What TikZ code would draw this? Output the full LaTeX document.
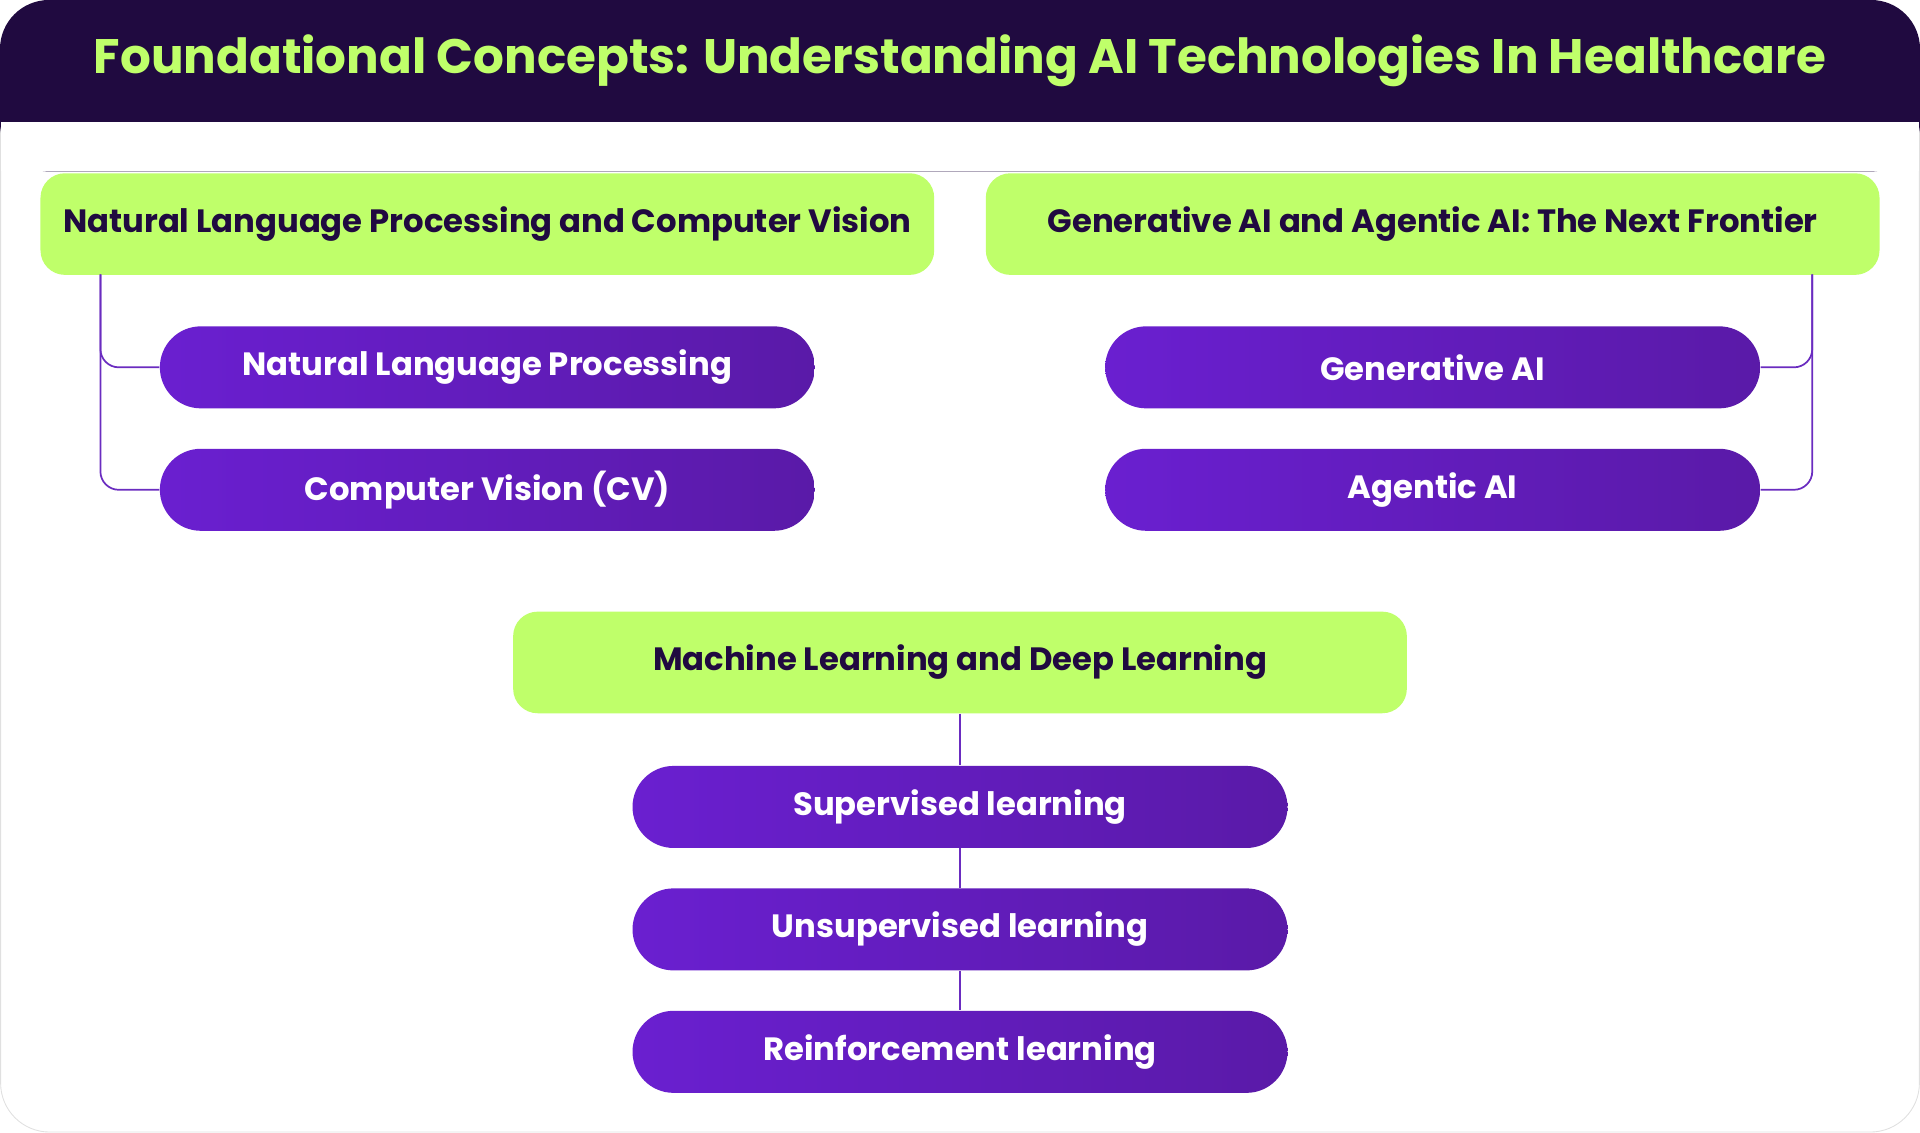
\documentclass[tikz,border=0pt]{standalone}
\usepackage{fontspec}
\setmainfont{Poppins}
\usetikzlibrary{shadings}
\definecolor{hdr}{HTML}{200A40}
\definecolor{lime}{HTML}{BFFF6A}
\definecolor{pl}{HTML}{6A1FD0}
\definecolor{pr}{HTML}{5A1AA8}
\definecolor{ln}{HTML}{6A2CC0}
\tikzset{
 x=0.02cm,y=-0.02cm,
 grp/.style={fill=lime,rounded corners=0.4cm,minimum width=14.6cm,minimum height=1.66cm,font=\fontsize{15}{18}\selectfont\bfseries,text=hdr},
 pill/.style={rounded corners=0.67cm,left color=pl,right color=pr,minimum width=10.7cm,minimum height=1.34cm,font=\fontsize{15}{18}\selectfont\bfseries,text=white},
 conn/.style={draw=ln,line width=0.8pt,rounded corners=0.3cm}
}
\begin{document}
\begin{tikzpicture}
\useasboundingbox (0,0) rectangle (1568,925);
\draw[draw=black!12,fill=white,rounded corners=0.8cm] (0.5,0.5) rectangle (1567.5,924.5);
\fill[hdr,rounded corners=0.8cm] (0,0) rectangle (1568,140);
\fill[hdr] (0,60) rectangle (1568,100);
\fill[white] (0.5,100) rectangle (1567.5,140);
\node[text=lime,font=\fontsize{22.5}{26}\selectfont\bfseries] (title) at (784,50) {Foundational Concepts: Understanding AI Technologies In Healthcare};
\node[grp] (g1) at (398,183) {Natural Language Processing and Computer Vision};
\node[grp] (g2) at (1170,183) {Generative AI and Agentic AI: The Next Frontier};
\node[grp] (g3) at (784,541) {Machine Learning and Deep Learning};
\node[pill] (a1) at (398,300) {Natural Language Processing};
\node[pill] (a2) at (398,400) {Computer Vision (CV)};
\node[pill] (b1) at (1170,300) {Generative AI};
\node[pill] (b2) at (1170,400) {Agentic AI};
\node[pill] (c1) at (784,659) {Supervised learning};
\node[pill] (c2) at (784,759) {Unsupervised learning};
\node[pill] (c3) at (784,859) {Reinforcement learning};
\coordinate (lx) at (82,224);
\coordinate (rx) at (1480,224);
\draw[conn] (lx) |- (a1.west);
\draw[conn] (lx) |- (a2.west);
\draw[conn] (rx) |- (b1.east);
\draw[conn] (rx) |- (b2.east);
\draw[conn] (g3.south) -- (c1.north);
\draw[conn] (c1.south) -- (c2.north);
\draw[conn] (c2.south) -- (c3.north);
\end{tikzpicture}
\end{document}
